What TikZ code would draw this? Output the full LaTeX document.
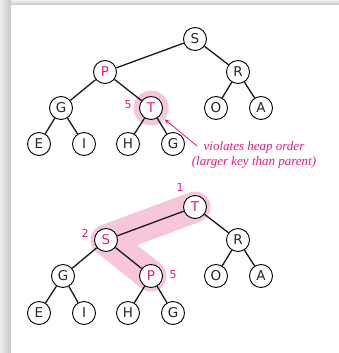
\documentclass[tikz,border=0pt]{standalone}
\usepackage{fontspec}
\newfontfamily\keyfont{DejaVu Sans}
\newfontfamily\notefont{Liberation Serif}
\usetikzlibrary{arrows.meta}
\definecolor{mag}{HTML}{E8198B}
\definecolor{halo}{HTML}{F7C6DA}
\tikzset{
  key/.style={circle,draw=black,line width=0.9pt,fill=white,minimum size=23pt,inner sep=0pt,font=\keyfont\fontsize{13.5}{13.5}\selectfont,text=black!85},
  hot/.style={key,text=mag},
  edge/.style={line width=1.3pt,black!90},
  num/.style={text=mag,font=\keyfont\fontsize{11}{11}\selectfont,inner sep=0pt},
  halonode/.style={circle,fill=halo,minimum size=35pt,inner sep=0pt},
  note/.style={text=mag,font=\notefont\itshape\fontsize{13}{15}\selectfont,align=center,inner sep=0pt}
}
\begin{document}
\begin{tikzpicture}[x=1pt,y=-1pt]
\useasboundingbox (0,0) rectangle (339,353);
% frame shadow
\shade[left color=black!6,right color=black!22] (0,0) rectangle (11,353);
\shade[top color=black!6,bottom color=black!22] (11,0) rectangle (339,5);
\fill[white] (11,5) rectangle (339,353);

% ---------- top tree ----------
\node[halonode] (Thalo) at (151,108) {};
\node[key] (S1) at (195,39) {S};
\node[hot] (P1) at (105,72) {P};
\node[key] (R1) at (238,72) {R};
\node[key] (G1) at (61,108) {G};
\node[hot] (T1) at (151,108) {T};
\node[key] (O1) at (216,108) {O};
\node[key] (A1) at (261,108) {A};
\node[key] (E1) at (39,144) {E};
\node[key] (I1) at (84,144) {I};
\node[key] (H1) at (128,144) {H};
\node[key] (GG1) at (173,144) {G};
\draw[edge] (S1)--(P1) (S1)--(R1) (P1)--(G1) (P1)--(T1) (R1)--(O1) (R1)--(A1)
  (G1)--(E1) (G1)--(I1) (T1)--(H1) (T1)--(GG1);
\node[num] (n5a) at (128,105) {5};
\node[note] (lab) at (254,155) {violates heap order\\(larger key than parent)};
\coordinate (arrstart) at (197,146);
\draw[mag,line width=0.8pt,-{Stealth[length=5pt,width=4pt]}] (arrstart) -- (Thalo);

% ---------- bottom tree ----------
\coordinate (hT) at (195,207);
\coordinate (hS) at (106,240);
\coordinate (hP) at (151,276);
\draw[halo,line width=31pt,line cap=round,line join=round] (hT) -- (hS) -- (hP);
\node[hot] (T2) at (195,207) {T};
\node[hot] (S2) at (106,240) {S};
\node[key] (R2) at (238,240) {R};
\node[key] (G2) at (63,276) {G};
\node[hot] (P2) at (151,276) {P};
\node[key] (O2) at (216,276) {O};
\node[key] (A2) at (261,276) {A};
\node[key] (E2) at (39,313) {E};
\node[key] (I2) at (84,313) {I};
\node[key] (H2) at (128,313) {H};
\node[key] (GG2) at (173,313) {G};
\draw[edge] (T2)--(S2) (T2)--(R2) (S2)--(G2) (S2)--(P2) (R2)--(O2) (R2)--(A2)
  (G2)--(E2) (G2)--(I2) (P2)--(H2) (P2)--(GG2);
\node[num] (n1) at (180,187) {1};
\node[num] (n2) at (85,233) {2};
\node[num] (n5b) at (173,275) {5};
\end{tikzpicture}
\end{document}
